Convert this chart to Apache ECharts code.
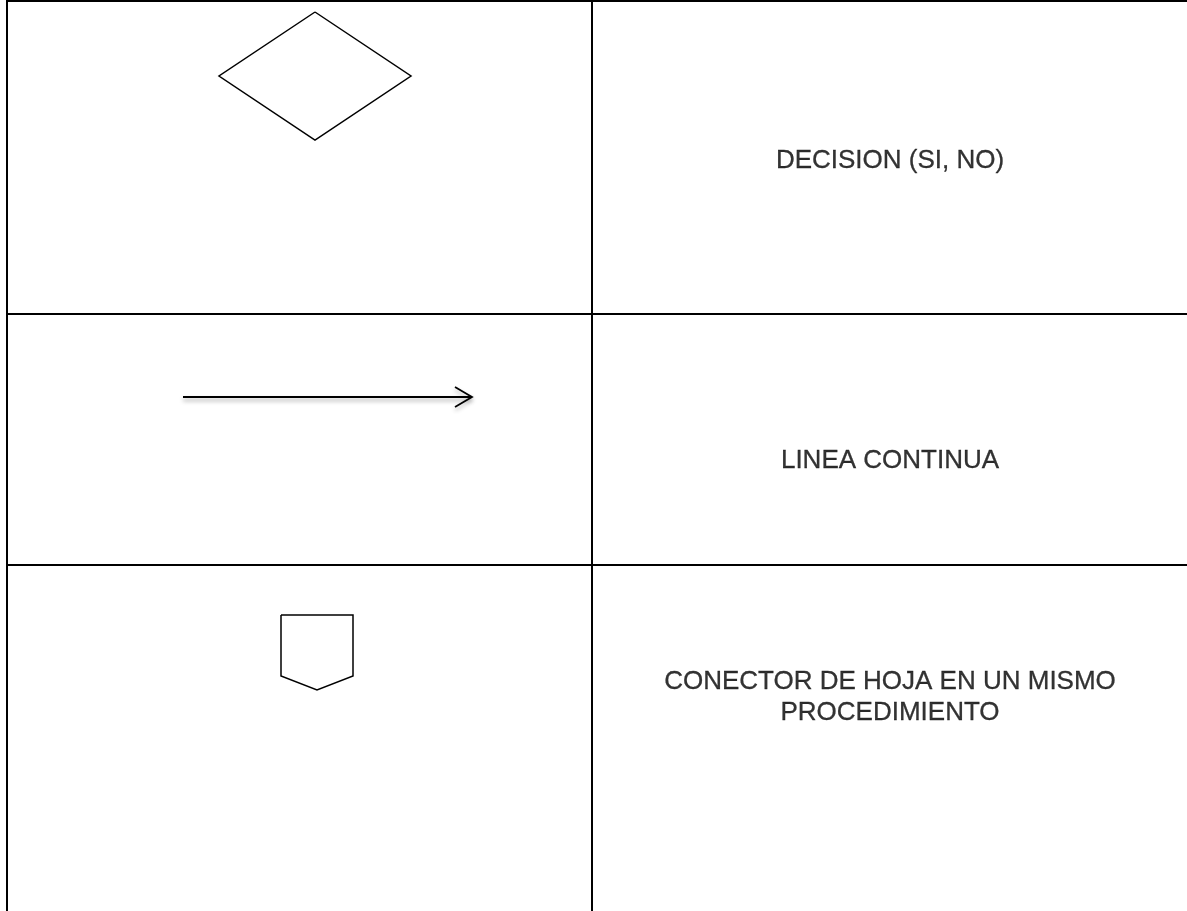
<!DOCTYPE html>
<html>
<head>
<meta charset="utf-8">
<script src="https://cdn.jsdelivr.net/npm/echarts@6/dist/echarts.min.js"></script>
<style>
html,body{margin:0;padding:0;background:#fff;}
#chart{width:1187px;height:911px;}
</style>
</head>
<body>
<div id="chart"></div>
<script>
// Table grid lines (page coordinates used as data units)
const tableLines = [
  [[6, 1], [1187, 1]],
  [[7, 0], [7, 911]],
  [[592, 0], [592, 911]],
  [[7, 314], [1187, 314]],
  [[7, 565], [1187, 565]]
];
// Symbols
const diamondPoints = [[315, 12], [411, 76], [315, 140], [219, 76], [315, 12]];
const arrowShaft = [[183, 397], [471, 397]];
const arrowHead = [[455, 387], [472, 397], [455, 407]];
const connectorPoints = [[281, 615], [353, 615], [353, 676], [317, 690], [281, 676], [281, 615]];
// Labels
const labelPositions = [[890, 161], [890, 461], [890, 697.5]];
const labelTexts = ['DECISION (SI, NO)', 'LINEA CONTINUA', 'CONECTOR DE HOJA EN UN MISMO\nPROCEDIMIENTO'];

const chart = echarts.init(document.getElementById('chart'));

function lineSeries(pts, width, extra) {
  return Object.assign({
    type: 'line',
    data: pts,
    symbol: 'none',
    silent: true,
    animation: false,
    clip: false,
    lineStyle: { color: '#000', width: width, cap: 'butt', join: 'miter' }
  }, extra || {});
}

const series = [];
tableLines.forEach(seg => series.push(lineSeries(seg, 2)));
series.push(lineSeries(diamondPoints, 1.5));
series.push(lineSeries(arrowShaft, 1.8, {
  lineStyle: { color: '#000', width: 1.8, shadowColor: 'rgba(0,0,0,0.35)', shadowBlur: 4, shadowOffsetY: 3 }
}));
series.push(lineSeries(arrowHead, 1.8, {
  lineStyle: { color: '#000', width: 1.8, join: 'miter', shadowColor: 'rgba(0,0,0,0.3)', shadowBlur: 4, shadowOffsetY: 3 }
}));
series.push(lineSeries(connectorPoints, 1.5));
series.push({
  type: 'scatter',
  symbolSize: 0,
  silent: true,
  animation: false,
  data: labelPositions.map((p, i) => [p[0], p[1], labelTexts[i]]),
  label: {
    show: true,
    position: 'inside',
    formatter: p => p.data[2],
    fontFamily: 'Liberation Sans, Arial, sans-serif',
    fontSize: 26,
    lineHeight: 31,
    color: '#000',
    textBorderColor: '#000',
    textBorderWidth: 0.3,
    align: 'center',
    verticalAlign: 'middle'
  }
});

chart.setOption({
  backgroundColor: '#fff',
  animation: false,
  grid: { left: 0, right: 0, top: 0, bottom: 0 },
  xAxis: { type: 'value', min: 0, max: 1187, show: false },
  yAxis: { type: 'value', min: 0, max: 911, inverse: true, show: false },
  series: series
});
</script>
</body>
</html>
